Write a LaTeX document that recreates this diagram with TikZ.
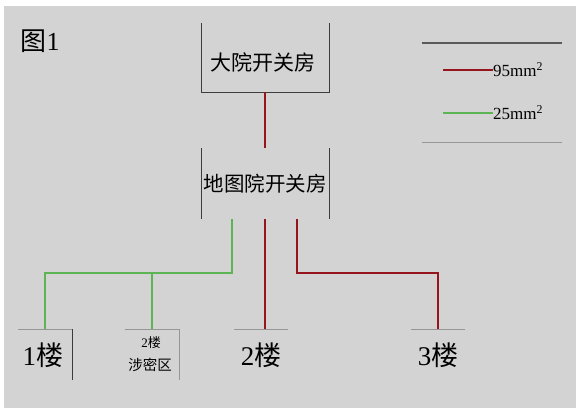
\documentclass[tikz,border=0pt]{standalone}
\usepackage{fontspec}
\setmainfont{Liberation Serif}
\newfontfamily\cjk{Noto Sans CJK SC}
\definecolor{bggray}{RGB}{211,211,211}
\definecolor{cabred}{RGB}{150,20,28}
\definecolor{cabgreen}{RGB}{92,180,84}
\definecolor{boxline}{RGB}{60,60,60}
\definecolor{lightline}{RGB}{150,150,150}
\newcommand{\fs}[1]{\fontsize{#1}{#1}\selectfont}
\begin{document}
\begin{tikzpicture}[x=1pt,y=-1pt,
  redcab/.style={draw=cabred,line width=2pt},
  greencab/.style={draw=cabgreen,line width=1.1pt},
  boxedge/.style={draw=boxline,line width=0.8pt},
  lightedge/.style={draw=lightline,line width=0.9pt},
  frame/.style={inner sep=0pt,outer sep=0pt},
  lbl/.style={inner sep=0pt,outer sep=0pt,font=\cjk\fs{21}}]
% background
\fill[white] (0,0) rectangle (576,408);
\fill[bggray] (4,6) rectangle (576,408);
\useasboundingbox (0,0) rectangle (576,408);

% title
\node[inner sep=0pt] (title) at (40,41) {{\cjk\fs{26}图}{\fs{26}1}};

% top switch room
\node[frame,minimum width=128pt,minimum height=69pt] (box1) at (265,57.5) {};
\node[lbl] (box1t) at (263,62) {大院开关房};
\draw[boxedge] (box1.north west) -- (box1.south west) -- (box1.south east) -- (box1.north east);

% second switch room
\node[frame,minimum width=128pt,minimum height=71pt,font=\cjk\fs{20.5}] (box2) at (265,183.5) {地图院开关房};
\draw[boxedge] (box2.north west) -- (box2.south west);
\draw[boxedge] (box2.north east) -- (box2.south east);

% bottom buildings
\node[frame,minimum width=54pt,minimum height=51pt] (f1) at (45,354.5) {};
\node[inner sep=0pt] (f1t) at (43,355) {{\fs{27}1}{\cjk\fs{27}楼}};
\draw[lightedge] (f1.north west) -- (f1.north east);
\draw[boxedge] (f1.north east) -- (f1.south east);

\node[frame,minimum width=54pt,minimum height=51pt] (f2s) at (152,354.5) {};
\node[inner sep=0pt] (f2sa) at (151,343) {{\fs{13}2}{\cjk\fs{13}楼}};
\node[inner sep=0pt,font=\cjk\fs{14.5}] (f2sb) at (150,365) {涉密区};
\draw[lightedge] (f2s.north west) -- (f2s.north east) -- (f2s.south east);

\node[frame,minimum width=54pt,minimum height=51pt] (f2) at (261,354.5) {};
\node[inner sep=0pt] (f2t) at (261,355) {{\fs{27}2}{\cjk\fs{27}楼}};
\draw[lightedge] (f2.north west) -- (f2.north east);

\node[frame,minimum width=54pt,minimum height=51pt] (f3) at (438,354.5) {};
\node[inner sep=0pt] (f3t) at (438,355) {{\fs{27}3}{\cjk\fs{27}楼}};
\draw[lightedge] (f3.north west) -- (f3.north east);

% connectors
\coordinate (bus) at (0,273);
\coordinate (g0) at ([xshift=-33pt]box2.south);
\coordinate (r1) at ([xshift=32pt]box2.south);
\draw[redcab] (box1.south) -- (box2.north);
\draw[greencab] (g0) -- (g0 |- bus) -| (f1.north);
\draw[greencab] (f2s.north |- bus) -- (f2s.north);
\draw[redcab] (box2.south) -- (box2.south |- f2.north);
\draw[redcab] (r1) -- (r1 |- bus) -| (f3.north);

% legend
\coordinate (lgA) at (422,43);
\coordinate (lgB) at (562,43);
\coordinate (lgC) at (422,142);
\coordinate (lgD) at (562,142);
\draw[draw=black!65,line width=1.2pt] (lgA) -- (lgB);
\draw[lightedge] (lgC) -- (lgD);
\coordinate (lr0) at (443,70);
\node[inner sep=0pt,anchor=west,font=\fs{17}] (lr) at (493,70) {95mm\textsuperscript{2}};
\draw[redcab] (lr0) -- (lr.west);
\coordinate (lg0) at (443,113);
\node[inner sep=0pt,anchor=west,font=\fs{17}] (lgt) at (493,113) {25mm\textsuperscript{2}};
\draw[greencab] (lg0) -- (lgt.west);
\end{tikzpicture}
\end{document}
